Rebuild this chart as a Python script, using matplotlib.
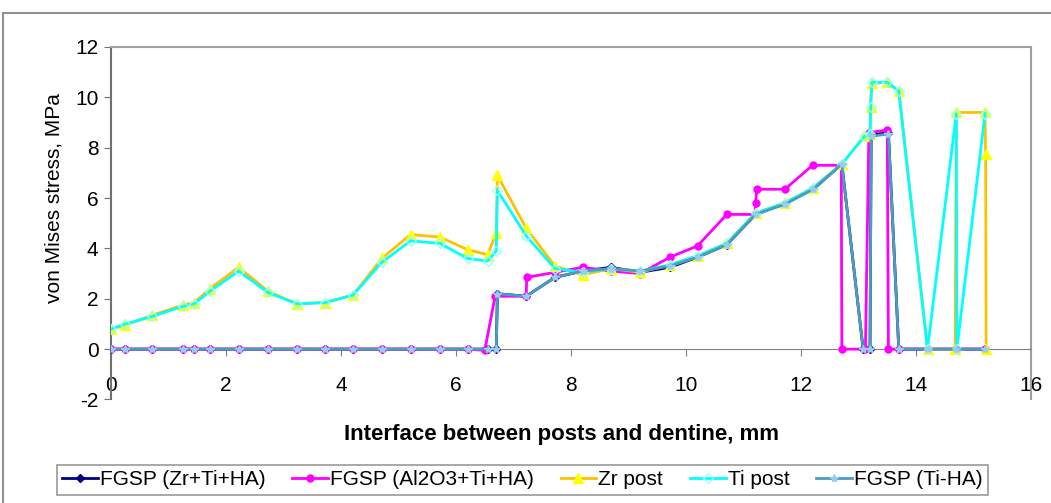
import matplotlib.pyplot as plt
from matplotlib.patches import Rectangle

# x positions of the nodes along the interface (mm)
x_front = [0, 0.25, 0.72, 1.25, 1.45, 1.72, 2.22, 2.73, 3.23, 3.73, 4.21,
           4.71, 5.21, 5.72, 6.2, 6.55]

# Zr post
zr_x = x_front + [6.7, 6.72, 7.22, 7.72, 8.2, 8.7, 9.2, 9.72, 10.2, 10.71,
                  11.21, 11.72, 12.21, 12.71, 13.1, 13.2, 13.21, 13.23, 13.5,
                  13.7, 14.2, 14.68, 14.7, 15.2, 15.21, 15.22]
zr_y = [0.8, 0.95, 1.35, 1.75, 1.85, 2.4, 3.25, 2.3, 1.8, 1.85, 2.15, 3.6,
        4.55, 4.45, 3.95, 3.75, 4.6, 6.9, 4.8, 3.3, 2.95, 3.2, 3.05, 3.35,
        3.7, 4.2, 5.4, 5.8, 6.4, 7.35, 8.45, 8.55, 9.6, 10.55, 10.6, 10.25,
        0, 0, 9.4, 9.4, 7.75, 0]

# Ti post
ti_x = x_front + [6.7, 6.72, 7.22, 7.72, 8.2, 8.7, 9.2, 9.72, 10.2, 10.71,
                  11.21, 11.72, 12.21, 12.71, 13.1, 13.2, 13.21, 13.23, 13.5,
                  13.7, 14.2, 14.7, 14.71, 15.2]
ti_y = [0.8, 1.0, 1.3, 1.7, 1.8, 2.3, 3.1, 2.25, 1.8, 1.85, 2.15, 3.45,
        4.3, 4.2, 3.6, 3.5, 3.9, 6.3, 4.5, 3.2, 3.05, 3.2, 3.1, 3.35, 3.7,
        4.2, 5.4, 5.8, 6.4, 7.35, 8.45, 8.55, 9.6, 10.6, 10.6, 10.25, 0,
        9.35, 0, 9.35]

# FGSP (Zr+Ti+HA) and FGSP (Ti-HA)
fg_x = x_front + [6.7, 6.72, 7.22, 7.72, 8.2, 8.7, 9.2, 9.72, 10.2, 10.71,
                  11.21, 11.72, 12.21, 12.71, 13.08, 13.2, 13.22, 13.52,
                  13.7, 14.2, 14.7, 15.2]
zrha_y = [0] * 16 + [0, 2.2, 2.1, 2.85, 3.1, 3.25, 3.05, 3.25, 3.65, 4.15,
                     5.35, 5.8, 6.35, 7.35, 0, 0, 8.5, 8.6, 0, 0, 0, 0]
tiha_y = [0] * 16 + [0, 2.2, 2.1, 2.85, 3.1, 3.2, 3.1, 3.3, 3.65, 4.15,
                     5.35, 5.75, 6.35, 7.35, 0, 0, 8.45, 8.55, 0, 0, 0, 0]

# FGSP (Al2O3+Ti+HA)
al_x = x_front[:15] + [6.5, 6.68, 7.22, 7.23, 7.72, 8.2, 8.7, 9.2, 9.72,
                       10.2, 10.71, 11.2, 11.21, 11.23, 11.72, 12.2, 12.7,
                       12.71, 13.12, 13.18, 13.5, 13.52, 13.7, 14.2, 14.7,
                       15.2]
al_y = [0] * 15 + [-0.05, 2.1, 2.1, 2.85, 3.05, 3.25, 3.1, 3.0, 3.65, 4.1,
                   5.35, 5.35, 5.8, 6.35, 6.35, 7.3, 7.3, 0, 0, 8.6, 8.7, 0,
                   0, 0, 0, 0]

fig = plt.figure(figsize=(10.51, 5.03), dpi=100)
plt.rcParams['font.family'] = ['Liberation Sans', 'DejaVu Sans']
plt.rcParams['axes.unicode_minus'] = False

# outer chart frame
fig.patches.append(Rectangle((0.003, -0.01), 1.1, 0.985, transform=fig.transFigure,
                             fill=False, edgecolor='#909090', lw=1.5))

ax = fig.add_axes([0.1056, 0.2058, 0.8754, 0.7008])

ax.plot(fg_x, zrha_y, color='#000080', lw=2, marker='D', ms=4,
        label='FGSP (Zr+Ti+HA)', zorder=3)
ax.plot(al_x, al_y, color='#ff00ff', lw=2, marker='o', ms=5,
        label='FGSP (Al2O3+Ti+HA)', zorder=3)
ax.plot(zr_x, zr_y, color='#ffc000', lw=2, marker='^', ms=7,
        mfc='#ffff00', mec='#ffff00', label='Zr post', zorder=4)
ax.plot(ti_x, ti_y, color='#00ffff', lw=2, marker='D', ms=5,
        mfc='none', mec='#99ffff', label='Ti post', zorder=5)
ax.plot(fg_x, tiha_y, color='#4a9cc0', lw=2, marker='*', ms=6,
        mfc='#99ccee', mec='#99ccee', label='FGSP (Ti-HA)', zorder=6)

ax.set_xlim(0, 16)
ax.set_ylim(-2, 12)
ax.set_xticks(range(0, 17, 2))
ax.set_yticks(range(-2, 13, 2))

ax.spines['bottom'].set_position(('data', 0))
ax.spines['bottom'].set_color('#808080')
ax.spines['left'].set_color('#707070')
ax.spines['left'].set_linewidth(1.5)
ax.spines['top'].set_color('#a0a0a0')
ax.spines['right'].set_color('#a0a0a0')
ax.spines['top'].set_linewidth(1.5)
ax.spines['right'].set_linewidth(1.5)
ax.tick_params(axis='x', direction='out', length=5, pad=14, labelsize=15,
               color='#808080')
ax.tick_params(axis='y', direction='out', length=5, pad=4, labelsize=15,
               color='#707070')

ax.set_ylabel('von Mises stress, MPa', fontsize=15)
ax.yaxis.set_label_coords(-0.052, 0.57)
ax.set_xlabel('Interface between posts and dentine, mm', fontsize=16,
              fontweight='bold')
ax.xaxis.set_label_coords(0.49, -0.07)

leg = fig.legend(loc='center', bbox_to_anchor=(0.497, 0.046), ncol=5,
                 fontsize=15, frameon=True, fancybox=False, handlelength=1.7,
                 columnspacing=1.3, handletextpad=0.1, borderpad=0.25)
leg.get_frame().set_edgecolor('#808080')
leg.get_frame().set_linewidth(1.2)

fig.savefig('out.png', dpi=100)
